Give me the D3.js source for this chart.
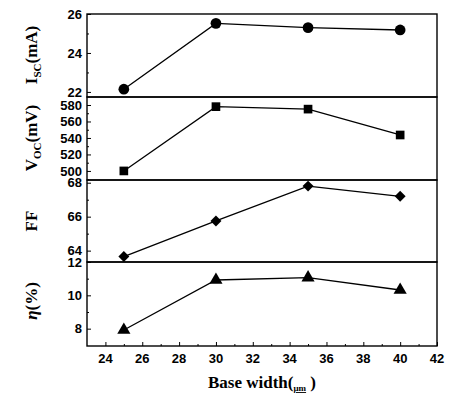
<!DOCTYPE html>
<html>
<head>
<meta charset="utf-8">
<script src="https://cdn.jsdelivr.net/npm/d3@7"></script>
<style>
  body { margin: 0; background: #fff; }
  svg text { fill: #000; }
</style>
</head>
<body>
<div id="chart"></div>
<script>
  const widths = [25, 30, 35, 40];
  const isc = [22.14, 25.52, 25.3, 25.18];
  const voc = [500, 578, 575, 543.6];
  const ff = [63.65, 65.75, 67.8, 67.2];
  const eta = [7.92, 10.92, 11.06, 10.32];
  const xTicks = [24, 26, 28, 30, 32, 34, 36, 38, 40, 42];

  const width = 451;
  const height = 394;
  const left = 87, right = 437;

  const svg = d3
    .select("#chart")
    .append("svg")
    .attr("width", width)
    .attr("height", height);

  const x = d3.scaleLinear().domain([23, 42]).range([left, right]);

  // one panel per quantity, stacked from top to bottom
  const panels = [
    { values: isc, top: 14, bottom: 97, domain: [21.74, 26], ticks: [22, 24, 26], minor: [23, 25], symbol: d3.symbolCircle, size: 90, rot: 0 },
    { values: voc, top: 97, bottom: 180, domain: [489, 589.7], ticks: [500, 520, 540, 560, 580], minor: [490, 510, 530, 550, 570], symbol: d3.symbolSquare, size: 75, rot: 0 },
    { values: ff, top: 180, bottom: 262, domain: [63.33, 68.16], ticks: [64, 66, 68], minor: [65, 67], symbol: d3.symbolSquare, size: 60, rot: 45 },
    { values: eta, top: 262, bottom: 346, domain: [6.96, 12], ticks: [8, 10, 12], minor: [9, 11], symbol: d3.symbolTriangle, size: 75, rot: 0 },
  ];

  panels.forEach((p) => {
    const y = d3.scaleLinear().domain(p.domain).range([p.bottom, p.top]);

    svg
      .append("rect")
      .attr("x", left)
      .attr("y", p.top)
      .attr("width", right - left)
      .attr("height", p.bottom - p.top)
      .attr("fill", "none")
      .attr("stroke", "#000")
      .attr("stroke-width", 1.4);

    svg
      .append("g")
      .attr("transform", `translate(${left}, 0)`)
      .call(d3.axisRight(y).tickValues(p.ticks).tickSize(4).tickFormat(""))
      .call((g) => g.select(".domain").remove());

    svg
      .append("g")
      .attr("transform", `translate(${left}, 0)`)
      .call(d3.axisRight(y).tickValues(p.minor.filter((v) => y(v) > p.top && y(v) < p.bottom)).tickSize(2).tickFormat(""))
      .call((g) => g.select(".domain").remove());

    svg
      .append("g")
      .selectAll("text")
      .data(p.ticks)
      .join("text")
      .attr("x", left - 5)
      .attr("y", (d) => y(d))
      .attr("dy", "0.36em")
      .attr("text-anchor", "end")
      .attr("font-family", "Liberation Sans, Arial, sans-serif")
      .attr("font-weight", "bold")
      .attr("font-size", 13)
      .text((d) => d);

    const line = d3
      .line()
      .x((d, i) => x(widths[i]))
      .y((d) => y(d));

    svg
      .append("path")
      .datum(p.values)
      .attr("fill", "none")
      .attr("stroke", "#000")
      .attr("stroke-width", 1.3)
      .attr("d", line);

    svg
      .append("g")
      .selectAll("path")
      .data(p.values)
      .join("path")
      .attr("transform", (d, i) => `translate(${x(widths[i])}, ${y(d)}) rotate(${p.rot})`)
      .attr("d", d3.symbol().type(p.symbol).size(p.size))
      .attr("fill", "#000");
  });

  // x axis with inward ticks
  const bottom = 346;
  svg
    .append("g")
    .attr("transform", `translate(0, ${bottom})`)
    .call(d3.axisTop(x).tickValues(xTicks).tickSize(4).tickFormat(""))
    .call((g) => g.select(".domain").remove());
  svg
    .append("g")
    .attr("transform", `translate(0, ${bottom})`)
    .call(d3.axisTop(x).tickValues(d3.range(25, 42, 2)).tickSize(2).tickFormat(""))
    .call((g) => g.select(".domain").remove());

  svg
    .append("g")
    .selectAll("text")
    .data(xTicks)
    .join("text")
    .attr("x", (d) => x(d))
    .attr("y", bottom + 17)
    .attr("text-anchor", "middle")
    .attr("font-family", "Liberation Sans, Arial, sans-serif")
    .attr("font-weight", "bold")
    .attr("font-size", 13)
    .text((d) => d);

  // axis titles
  const serif = "Liberation Serif, Times New Roman, serif";
  const xTitle = svg
    .append("text")
    .attr("x", 262)
    .attr("y", 388)
    .attr("text-anchor", "middle")
    .attr("font-family", serif)
    .attr("font-weight", "bold")
    .attr("font-size", 17);
  xTitle.append("tspan").text("Base width(");
  xTitle.append("tspan").attr("font-size", 9).attr("text-decoration", "underline").attr("dy", 3).text("μm");
  xTitle.append("tspan").attr("dy", -3).text(" )");

  const yTitles = [
    { main: "I", sub: "SC", rest: "(mA)", cy: 55 },
    { main: "V", sub: "OC", rest: "(mV)", cy: 138 },
    { main: "FF", sub: "", rest: "", cy: 221 },
    { main: "η", sub: "", rest: "(%)", cy: 301 },
  ];
  yTitles.forEach((t) => {
    const txt = svg
      .append("text")
      .attr("transform", `translate(37, ${t.cy}) rotate(-90)`)
      .attr("text-anchor", "middle")
      .attr("font-family", serif)
      .attr("font-weight", "bold")
      .attr("font-size", 17);
    txt.append("tspan").attr("font-style", t.main === "η" ? "italic" : null).text(t.main);
    if (t.sub) {
      txt.append("tspan").attr("font-size", 11).attr("dy", 4).text(t.sub);
      txt.append("tspan").attr("dy", -4).text(t.rest);
    } else if (t.rest) {
      txt.append("tspan").text(t.rest);
    }
  });
</script>
</body>
</html>
